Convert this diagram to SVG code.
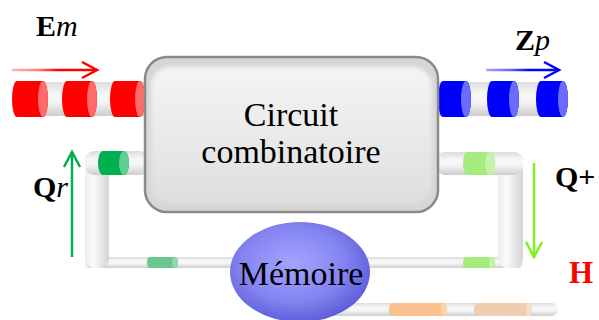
<svg xmlns="http://www.w3.org/2000/svg" width="599" height="320" viewBox="0 0 599 320">
  <defs>
    <style>
      .lbl { font-size: 30px; fill: #000; }
      .b { font-weight: bold; }
      .it { font-style: italic; }
      .node-text { font-size: 34px; fill: #000; text-anchor: middle; }
      .tubeH { fill: url(#tubeH); }
      .tubeV { fill: url(#tubeV); }
      .arrow { fill: none; stroke-width: 2.5; }
    </style>
    <!-- pipe shading -->
    <linearGradient id="tubeH" x1="0" y1="0" x2="0" y2="1">
      <stop offset="0" stop-color="#dcdcdc"/>
      <stop offset="0.35" stop-color="#f8f8f8"/>
      <stop offset="0.6" stop-color="#f3f3f3"/>
      <stop offset="1" stop-color="#cdcdcd"/>
    </linearGradient>
    <linearGradient id="tubeV" x1="0" y1="0" x2="1" y2="0">
      <stop offset="0" stop-color="#eeeeee"/>
      <stop offset="0.35" stop-color="#fafafa"/>
      <stop offset="1" stop-color="#d4d4d4"/>
    </linearGradient>
    <!-- box face -->
    <linearGradient id="boxFace" x1="0" y1="0" x2="0" y2="1">
      <stop offset="0" stop-color="#f5f5f5"/>
      <stop offset="1" stop-color="#dedede"/>
    </linearGradient>
    <filter id="soft" x="-5%" y="-5%" width="110%" height="110%">
      <feGaussianBlur stdDeviation="2"/>
    </filter>
    <!-- memory bubble -->
    <radialGradient id="memFill" cx="0.45" cy="0.42" r="0.6">
      <stop offset="0" stop-color="#a4a4ff"/>
      <stop offset="0.6" stop-color="#8585f2"/>
      <stop offset="1" stop-color="#5c5cd8"/>
    </radialGradient>
    <!-- signal arrows -->
    <linearGradient id="redLine" gradientUnits="userSpaceOnUse" x1="12" y1="0" x2="97" y2="0">
      <stop offset="0" stop-color="#ffb4b4"/>
      <stop offset="0.3" stop-color="#ff8080"/>
      <stop offset="0.55" stop-color="#ff0000"/>
    </linearGradient>
    <linearGradient id="blueLine" gradientUnits="userSpaceOnUse" x1="486" y1="0" x2="559" y2="0">
      <stop offset="0" stop-color="#a8a8ff"/>
      <stop offset="0.35" stop-color="#6060ff"/>
      <stop offset="0.6" stop-color="#0000ff"/>
    </linearGradient>
    <marker id="headRed" markerUnits="userSpaceOnUse" markerWidth="20" markerHeight="20" refX="0" refY="0" viewBox="-17 -10 20 20" orient="auto">
      <path d="M-15,-8 L0,0 L-15,8" fill="none" stroke="#ff0000" stroke-width="2.5"/>
    </marker>
    <marker id="headBlue" markerUnits="userSpaceOnUse" markerWidth="20" markerHeight="20" refX="0" refY="0" viewBox="-17 -10 20 20" orient="auto">
      <path d="M-15,-8 L0,0 L-15,8" fill="none" stroke="#0000ff" stroke-width="2.5"/>
    </marker>
    <marker id="headGreen" markerUnits="userSpaceOnUse" markerWidth="20" markerHeight="20" refX="0" refY="0" viewBox="-17 -10 20 20" orient="auto">
      <path d="M-15,-8 L0,0 L-15,8" fill="none" stroke="#00b050" stroke-width="2.5"/>
    </marker>
    <marker id="headLime" markerUnits="userSpaceOnUse" markerWidth="20" markerHeight="20" refX="0" refY="0" viewBox="-17 -10 20 20" orient="auto">
      <path d="M-15,-8 L0,0 L-15,8" fill="none" stroke="#80f020" stroke-width="2.5"/>
    </marker>
  </defs>

  <!-- pipes, plugs and signal arrows -->
  <g id="connectors">
    <!-- input bus Em -->
    <rect class="tubeH" x="14" y="82" width="135" height="34" rx="4"/>
    <path d="M17,81 H43 A5,18 0 0 1 43,117 H17 A5,18 0 0 1 17,81 Z" fill="#ff0000"/>
    <ellipse cx="43" cy="99" rx="5" ry="18" fill="#ff6b6b"/>
    <path d="M67,81 H92 A5,18 0 0 1 92,117 H67 A5,18 0 0 1 67,81 Z" fill="#ff0000"/>
    <ellipse cx="92" cy="99" rx="5" ry="18" fill="#ff6b6b"/>
    <path d="M115,81 H140 A5,18 0 0 1 140,117 H115 A5,18 0 0 1 115,81 Z" fill="#ff0000"/>
    <ellipse cx="140" cy="99" rx="5" ry="18" fill="#ff6b6b"/>

    <!-- output bus Zp -->
    <rect class="tubeH" x="436" y="82" width="130" height="34" rx="4"/>
    <path d="M443,81 H466 A5,18 0 0 1 466,117 H443 A5,18 0 0 1 443,81 Z" fill="#0000ff"/>
    <ellipse cx="466" cy="99" rx="5" ry="18" fill="#6b6bff"/>
    <path d="M492,81 H514 A5,18 0 0 1 514,117 H492 A5,18 0 0 1 492,81 Z" fill="#0000ff"/>
    <ellipse cx="514" cy="99" rx="5" ry="18" fill="#6b6bff"/>
    <path d="M541,81 H563 A5,18 0 0 1 563,117 H541 A5,18 0 0 1 541,81 Z" fill="#0000ff"/>
    <ellipse cx="563" cy="99" rx="5" ry="18" fill="#6b6bff"/>

    <!-- feedback loop, left side (Qr) -->
    <rect class="tubeH" x="85" y="257" width="170" height="11" rx="5"/>
    <rect class="tubeV" x="85" y="151" width="24" height="117" rx="9"/>
    <rect class="tubeH" x="85" y="151" width="64" height="24" rx="9"/>
    <path d="M103,151 H124 A5,12 0 0 1 124,175 H103 A5,12 0 0 1 103,151 Z" fill="#00b050"/>
    <ellipse cx="124" cy="163" rx="5" ry="12" fill="#62cf92"/>
    <path d="M150,257 H175 A3,5.5 0 0 1 175,268 H150 A3,5.5 0 0 1 150,257 Z" fill="#6cc690"/>
    <ellipse cx="175" cy="262.5" rx="3" ry="5.5" fill="#92d8ae"/>

    <!-- feedback loop, right side (Q+) -->
    <rect class="tubeH" x="345" y="257" width="178" height="11" rx="5"/>
    <rect class="tubeV" x="498" y="152" width="25" height="116" rx="9"/>
    <rect class="tubeH" x="436" y="152" width="87" height="23" rx="9"/>
    <path d="M468,152 H490 A5,11.5 0 0 1 490,175 H468 A5,11.5 0 0 1 468,152 Z" fill="#a5eb7d"/>
    <ellipse cx="490" cy="163.5" rx="5" ry="11.5" fill="#c3f2a8"/>
    <path d="M466,257 H492 A3,5.5 0 0 1 492,268 H466 A3,5.5 0 0 1 466,257 Z" fill="#a5eb7d"/>
    <ellipse cx="492" cy="262.5" rx="3" ry="5.5" fill="#c3f2a8"/>

    <!-- clock line H -->
    <rect class="tubeH" x="320" y="303" width="238" height="13" rx="6.5"/>
    <path d="M392,303 H444 A3,6.5 0 0 1 444,316 H392 A3,6.5 0 0 1 392,303 Z" fill="#f9c290"/>
    <ellipse cx="444" cy="309.5" rx="3" ry="6.5" fill="#fbd4ae"/>
    <path d="M477,303 H529 A3,6.5 0 0 1 529,316 H477 A3,6.5 0 0 1 477,303 Z" fill="#efcdae"/>
    <ellipse cx="529" cy="309.5" rx="3" ry="6.5" fill="#f6dec8"/>

    <!-- signal direction arrows -->
    <line class="arrow" x1="12" y1="70" x2="97" y2="70" stroke="url(#redLine)" marker-end="url(#headRed)"/>
    <line class="arrow" x1="486" y1="70" x2="559" y2="70" stroke="url(#blueLine)" marker-end="url(#headBlue)"/>
    <line class="arrow" x1="72" y1="257" x2="72" y2="152" stroke="#00b050" marker-end="url(#headGreen)"/>
    <line class="arrow" x1="534" y1="163" x2="534" y2="257" stroke="#80f020" marker-end="url(#headLime)"/>
  </g>

  <!-- combinational block -->
  <g id="circuit">
    <rect x="145" y="57" width="293" height="155" rx="22" fill="#d6d6d6" stroke="#8a8a8a" stroke-width="2.5"/>
    <rect x="151" y="67" width="281" height="137" rx="20" fill="url(#boxFace)" filter="url(#soft)"/>
    <text class="node-text" x="291" y="126" font-family="Liberation Serif">Circuit</text>
    <text class="node-text" x="291" y="163" font-family="Liberation Serif">combinatoire</text>
  </g>

  <!-- memory -->
  <g id="memoire">
    <ellipse cx="300" cy="272" rx="70" ry="50" fill="url(#memFill)"/>
    <text class="node-text" x="301" y="285" font-family="Liberation Serif">Mémoire</text>
  </g>

  <!-- signal labels -->
  <g id="label-em">
    <text class="lbl" x="36" y="36" font-family="Liberation Serif"><tspan class="b">E</tspan><tspan class="it">m</tspan></text>
  </g>
  <g id="label-zp">
    <text class="lbl" x="515" y="50" font-family="Liberation Serif"><tspan class="b">Z</tspan><tspan class="it">p</tspan></text>
  </g>
  <g id="label-qr">
    <text class="lbl" x="33" y="197" font-family="Liberation Serif"><tspan class="b">Q</tspan><tspan class="it">r</tspan></text>
  </g>
  <g id="label-qplus">
    <text class="lbl b" x="555" y="187" font-family="Liberation Serif">Q+</text>
  </g>
  <g id="label-h">
    <text class="lbl b" x="569" y="283" font-family="Liberation Serif" fill="#ff0000" style="fill:#ff0000;font-size:31px">H</text>
  </g>
</svg>
